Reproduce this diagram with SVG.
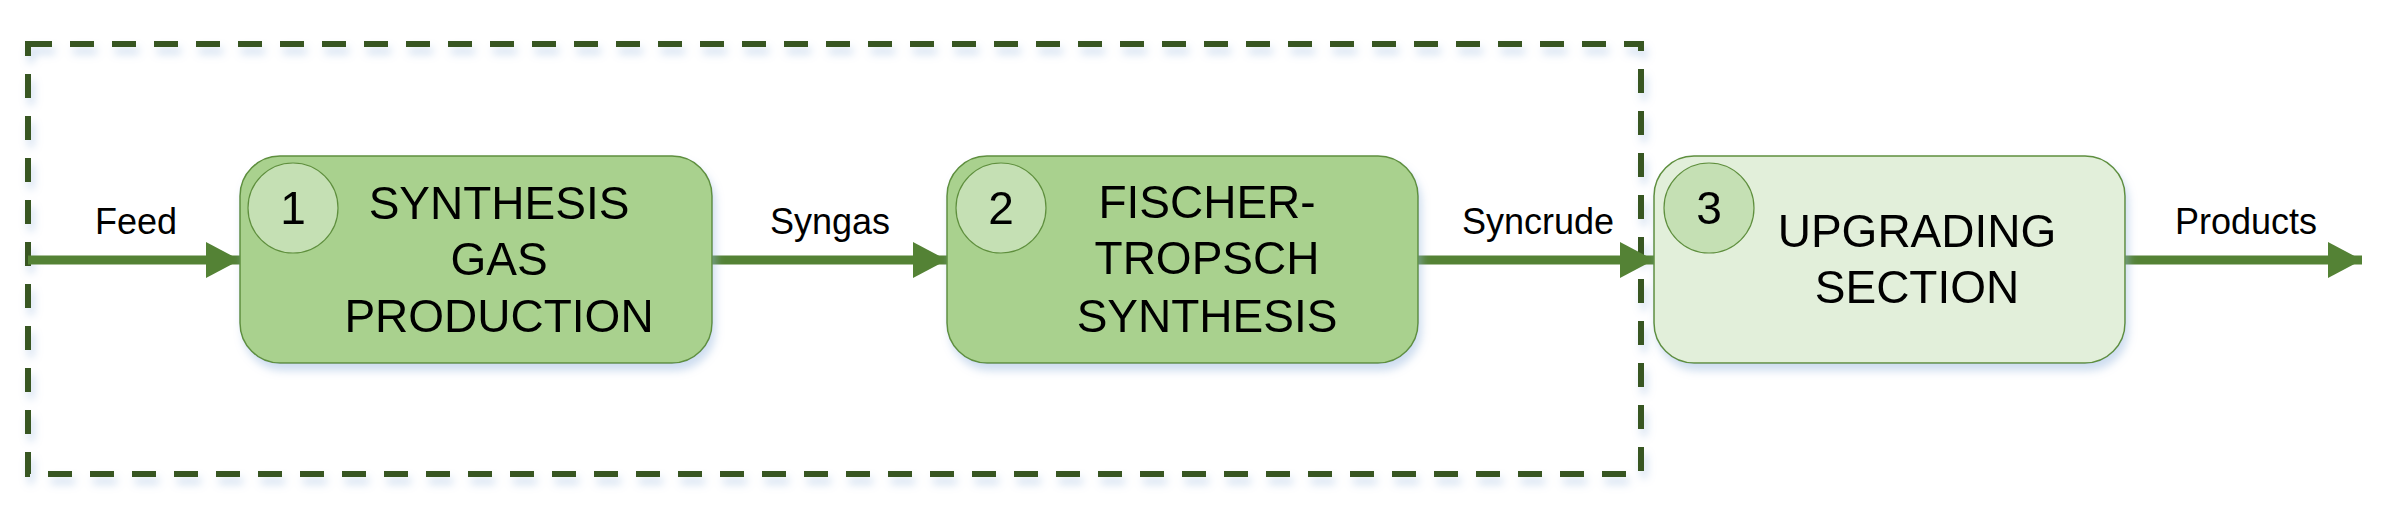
<svg xmlns="http://www.w3.org/2000/svg" width="2384" height="522" viewBox="0 0 2384 522">
<style>
.t{font-family:"Liberation Sans",Arial,sans-serif;fill:#000;text-anchor:middle}
.lbl{font-size:36px}
.big{font-size:46px}
.box{stroke:#5f8f3e;stroke-width:1.5}
.c{fill:#c5e0b4;stroke:#5f8f3e;stroke-width:1.2}
.ln{stroke:#548235;stroke-width:9;fill:none}
</style>
<defs>
<filter id="sh" x="-10%" y="-10%" width="120%" height="130%">
<feGaussianBlur in="SourceAlpha" stdDeviation="4"/>
<feOffset dx="3" dy="6"/>
<feComponentTransfer><feFuncA type="linear" slope="0.25"/></feComponentTransfer>
<feFlood flood-color="#7fa7d8"/>
<feComposite operator="in" in2="SourceGraphic"/>
</filter>
<filter id="ds" x="-10%" y="-10%" width="120%" height="130%">
<feGaussianBlur in="SourceAlpha" stdDeviation="4" result="b"/>
<feOffset in="b" dx="3" dy="7" result="o"/>
<feFlood flood-color="#9dbbe0" flood-opacity="0.5"/>
<feComposite in2="o" operator="in" result="s"/>
<feMerge><feMergeNode in="s"/><feMergeNode in="SourceGraphic"/></feMerge>
</filter>
<marker id="ah" markerUnits="userSpaceOnUse" markerWidth="34" markerHeight="36" refX="34" refY="18" orient="auto">
<path d="M0,0 L34,18 L0,36 Z" fill="#548235"/>
</marker>
</defs>
<rect id="boundary" x="28" y="44" width="1613" height="430" fill="none" stroke="#375623" stroke-width="6" stroke-dasharray="24,18" filter="url(#ds)"/>
<g id="connectors">
<line class="ln" x1="28" y1="260" x2="240" y2="260" marker-end="url(#ah)"/>
<line class="ln" x1="712" y1="260" x2="947" y2="260" marker-end="url(#ah)"/>
<line class="ln" x1="1418" y1="260" x2="1654" y2="260" marker-end="url(#ah)"/>
<line class="ln" x1="2125" y1="260" x2="2362" y2="260" marker-end="url(#ah)"/>
<text class="t lbl" x="136" y="234">Feed</text>
<text class="t lbl" x="830" y="234">Syngas</text>
<text class="t lbl" x="1538" y="234">Syncrude</text>
<text class="t lbl" x="2246" y="234">Products</text>
</g>
<g id="node1" filter="url(#ds)">
<rect class="box" x="240" y="156" width="472" height="207" rx="40" fill="#a9d18e"/>
<circle class="c" cx="293" cy="208" r="45"/>
<text class="t big" x="293" y="224">1</text>
<text class="t big" x="499" y="219">SYNTHESIS</text>
<text class="t big" x="499" y="275">GAS</text>
<text class="t big" x="499" y="332">PRODUCTION</text>
</g>
<g id="node2" filter="url(#ds)">
<rect class="box" x="947" y="156" width="471" height="207" rx="40" fill="#a9d18e"/>
<circle class="c" cx="1001" cy="208" r="45"/>
<text class="t big" x="1001" y="224">2</text>
<text class="t big" x="1207" y="218">FISCHER-</text>
<text class="t big" x="1207" y="274">TROPSCH</text>
<text class="t big" x="1207" y="332">SYNTHESIS</text>
</g>
<g id="node3" filter="url(#ds)">
<rect class="box" x="1654" y="156" width="471" height="207" rx="40" fill="#e2efda"/>
<circle class="c" cx="1709" cy="208" r="45"/>
<text class="t big" x="1709" y="224">3</text>
<text class="t big" x="1917" y="247">UPGRADING</text>
<text class="t big" x="1917" y="303">SECTION</text>
</g>
</svg>
